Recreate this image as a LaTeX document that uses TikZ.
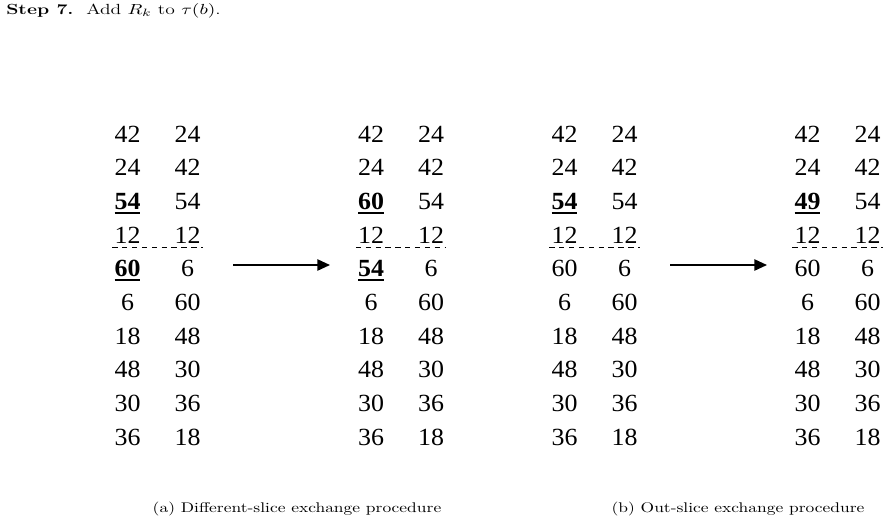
\documentclass[tikz,border=0pt]{standalone}
\usepackage{fontspec}
\usepackage{graphicx}
\newfontfamily\numfont[FakeStretch=1.05]{Liberation Serif}
\usetikzlibrary{arrows.meta}

% bold value with a heavy rule under it
\newcommand\keynum[1]{\vtop{\hbox{\bfseries #1}\kern1.4pt\hrule height1.8pt}}

\tikzset{
  num/.style={font=\numfont\fontsize{18.5}{22}\selectfont,inner sep=0pt,anchor=base},
  cut/.style={dash pattern=on 4pt off 3.4pt,line width=.6pt},
  arr/.style={-{Triangle[length=9.5pt,width=8.5pt]},line width=1.1pt},
  capt/.style={font=\fontsize{10.5}{13}\selectfont,inner sep=0pt,anchor=base}
}

\begin{document}
\begin{tikzpicture}[x=.75pt,y=-.75pt]
  \useasboundingbox (0,0) rectangle (889,526);
  \node[capt,font=\fontsize{11}{13}\selectfont,anchor=base west] (step) at (6,14)
    {\scalebox{1.33}[1]{\textbf{Step 7.}\ \ Add $R_k$ to $\tau(b)$.}};
  % left columns
  \foreach \v [count=\i] in {42,24,\keynum{54},12,\keynum{60},6,18,48,30,36}
    \node[num] (Al\i) at (127.5,{142+33.7*(\i-1)}) {\v};
  \foreach \v [count=\i] in {42,24,\keynum{60},12,\keynum{54},6,18,48,30,36}
    \node[num] (Bl\i) at (371,{142+33.7*(\i-1)}) {\v};
  \foreach \v [count=\i] in {42,24,\keynum{54},12,60,6,18,48,30,36}
    \node[num] (Cl\i) at (564.5,{142+33.7*(\i-1)}) {\v};
  \foreach \v [count=\i] in {42,24,\keynum{49},12,60,6,18,48,30,36}
    \node[num] (Dl\i) at (807.5,{142+33.7*(\i-1)}) {\v};
  % right columns, the same in every panel
  \foreach \p/\x in {A/187.5,B/431,C/624.5,D/867.5}
    \foreach \v [count=\i] in {24,42,54,12,6,60,48,30,36,18}
      \node[num] (\p r\i) at (\x,{142+33.7*(\i-1)}) {\v};
  % slice borders
  \foreach \p in {A,B,C,D}
    \draw[cut] ([shift={(-2,4)}]\p l4.base west) -- ([shift={(2,4)}]\p r4.base east);
  % exchanges
  \coordinate (s1) at (233,265);
  \coordinate (t1) at (330,265);
  \coordinate (s2) at (670,265);
  \coordinate (t2) at (767,265);
  \draw[arr] (s1) -- (t1);
  \draw[arr] (s2) -- (t2);
  \node[capt] (capa) at (297,512) {\scalebox{1.247}[1]{(a) Different-slice exchange procedure}};
  \node[capt] (capb) at (738,512) {\scalebox{1.247}[1]{(b) Out-slice exchange procedure}};
\end{tikzpicture}
\end{document}
